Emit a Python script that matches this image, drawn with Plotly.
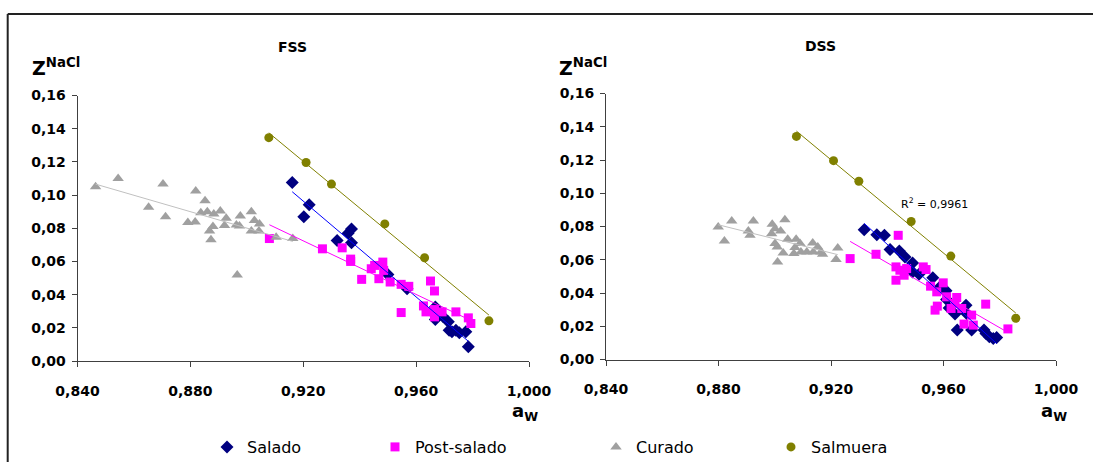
import numpy as np
import plotly.graph_objects as go

W, H = 1093, 462

# ---------------- FSS ----------------
fss_salado_aw = [0.9161, 0.9221, 0.9202, 0.9320, 0.9359, 0.9371, 0.9371, 0.9500, 0.9568,
                 0.9660, 0.9668, 0.9668, 0.9694, 0.9714, 0.9717, 0.9727, 0.9741, 0.9753,
                 0.9776, 0.9785]
fss_salado_z = [0.1076, 0.0942, 0.0870, 0.0726, 0.0770, 0.0796, 0.0712, 0.0522, 0.0436,
                0.0290, 0.0326, 0.0250, 0.0270, 0.0236, 0.0186, 0.0176, 0.0186, 0.0170,
                0.0176, 0.0086]

fss_post_aw = [0.9080, 0.9268, 0.9338, 0.9368, 0.9368, 0.9407, 0.9441, 0.9453, 0.9468,
               0.9482, 0.9485, 0.9508, 0.9547, 0.9574, 0.9547, 0.9651, 0.9665, 0.9626,
               0.9635, 0.9665, 0.9665, 0.9692, 0.9741, 0.9785, 0.9794]
fss_post_z = [0.0738, 0.0676, 0.0682, 0.0614, 0.0600, 0.0492, 0.0556, 0.0576, 0.0496,
              0.0596, 0.0546, 0.0476, 0.0462, 0.0450, 0.0292, 0.0482, 0.0422, 0.0332,
              0.0296, 0.0266, 0.0310, 0.0296, 0.0296, 0.0260, 0.0226]

fss_curado_aw = [0.8464, 0.8544, 0.8652, 0.8703, 0.8712, 0.8791, 0.8819, 0.8817, 0.8852,
                 0.8837, 0.8860, 0.8883, 0.8906, 0.8868, 0.8880, 0.8873, 0.8921, 0.8927,
                 0.8963, 0.8977, 0.8974, 0.8966, 0.9016, 0.9027, 0.9045, 0.9016, 0.9043,
                 0.9104, 0.9163]
fss_curado_z = [0.1050, 0.1100, 0.0926, 0.1066, 0.0870, 0.0834, 0.1024, 0.0838, 0.0966,
                0.0894, 0.0900, 0.0886, 0.0904, 0.0784, 0.0810, 0.0730, 0.0816, 0.0860,
                0.0820, 0.0874, 0.0814, 0.0518, 0.0900, 0.0846, 0.0826, 0.0784, 0.0784,
                0.0746, 0.0738]

fss_salmuera_aw = [0.9078, 0.9210, 0.9300, 0.9489, 0.9630, 0.9858]
fss_salmuera_z = [0.1346, 0.1196, 0.1066, 0.0826, 0.0622, 0.0242]

# ---------------- DSS ----------------
dss_salado_aw = [0.9318, 0.9363, 0.9390, 0.9410, 0.9443, 0.9463, 0.9490, 0.9490, 0.9513,
                 0.9562, 0.9588, 0.9609, 0.9611, 0.9620, 0.9641, 0.9649, 0.9680, 0.9682,
                 0.9700, 0.9744, 0.9751, 0.9763, 0.9777, 0.9789]
dss_salado_z = [0.0781, 0.0751, 0.0747, 0.0661, 0.0653, 0.0617, 0.0581, 0.0527, 0.0513,
                0.0491, 0.0437, 0.0413, 0.0361, 0.0310, 0.0273, 0.0177, 0.0327, 0.0277,
                0.0177, 0.0177, 0.0157, 0.0137, 0.0127, 0.0133]

dss_post_aw = [0.9268, 0.9360, 0.9439, 0.9431, 0.9431, 0.9445, 0.9460, 0.9469, 0.9528,
               0.9538, 0.9554, 0.9576, 0.9599, 0.9570, 0.9578, 0.9611, 0.9627, 0.9647,
               0.9641, 0.9665, 0.9673, 0.9700, 0.9706, 0.9750, 0.9829]
dss_post_z = [0.0607, 0.0633, 0.0747, 0.0557, 0.0477, 0.0537, 0.0507, 0.0547, 0.0557,
              0.0541, 0.0441, 0.0407, 0.0461, 0.0297, 0.0321, 0.0377, 0.0307, 0.0373,
              0.0337, 0.0307, 0.0213, 0.0267, 0.0207, 0.0333, 0.0184]

dss_curado_aw = [0.8799, 0.8847, 0.8821, 0.8924, 0.8906, 0.8912, 0.8991, 0.9001, 0.9036,
                 0.8989, 0.9021, 0.9001, 0.9009, 0.9010, 0.9030, 0.9046, 0.9076, 0.9072,
                 0.9068, 0.9093, 0.9114, 0.9135, 0.9137, 0.9153, 0.9164, 0.9170, 0.9224,
                 0.9218, 0.9090]
dss_curado_z = [0.0797, 0.0833, 0.0713, 0.0833, 0.0773, 0.0747, 0.0813, 0.0787, 0.0841,
                0.0757, 0.0773, 0.0697, 0.0677, 0.0587, 0.0641, 0.0723, 0.0723, 0.0673,
                0.0637, 0.0647, 0.0647, 0.0701, 0.0647, 0.0677, 0.0647, 0.0633, 0.0671,
                0.0601, 0.0697]

dss_salmuera_aw = [0.9077, 0.9209, 0.9299, 0.9485, 0.9626, 0.9857]
dss_salmuera_z = [0.1342, 0.1196, 0.1072, 0.0830, 0.0622, 0.0248]

# Tick values
x_ticks = [0.84, 0.88, 0.92, 0.96, 1.00]
y_ticks = [0.00, 0.02, 0.04, 0.06, 0.08, 0.10, 0.12, 0.14, 0.16]

series_names = ["Salado", "Post-salado", "Curado", "Salmuera"]
marker_colors = ["#000080", "#FF00FF", "#A0A0A0", "#808000"]
trend_colors = ["#0000FF", "#FF00FF", "#C0C0C0", "#808000"]
marker_symbols = ["diamond", "square", "triangle-up", "circle"]
marker_sizes = [10, 9, 10, 9]
legend_ids = ["legend", "legend2", "legend3", "legend4"]

panels = [
    ("x", "y", [(fss_salado_aw, fss_salado_z), (fss_post_aw, fss_post_z),
                (fss_curado_aw, fss_curado_z), (fss_salmuera_aw, fss_salmuera_z)]),
    ("x2", "y2", [(dss_salado_aw, dss_salado_z), (dss_post_aw, dss_post_z),
                  (dss_curado_aw, dss_curado_z), (dss_salmuera_aw, dss_salmuera_z)]),
]

fig = go.Figure()

# markers
for p, (xa, ya, data) in enumerate(panels):
    for i, (aw, z) in enumerate(data):
        fig.add_trace(go.Scatter(
            x=aw, y=z, mode="markers", name=series_names[i],
            marker=dict(symbol=marker_symbols[i], color=marker_colors[i],
                        size=marker_sizes[i], line=dict(width=0)),
            xaxis=xa, yaxis=ya, showlegend=(p == 0), legend=legend_ids[i],
            cliponaxis=False,
        ))

# linear trend lines over the markers
for xa, ya, data in panels:
    for i, (aw, z) in enumerate(data):
        aw_a = np.asarray(aw)
        k, b = np.polyfit(aw_a, np.asarray(z), 1)
        xs = np.array([aw_a.min(), aw_a.max()])
        fig.add_trace(go.Scatter(
            x=xs, y=k * xs + b, mode="lines",
            line=dict(color=trend_colors[i], width=1),
            xaxis=xa, yaxis=ya, showlegend=False, hoverinfo="skip",
        ))


def fx(px):
    return px / W


def fy(py):
    return 1 - py / H


tick_font = dict(family="DejaVu Sans", size=14, color="black", weight="bold")
axis_col = "#404040"

common_x = dict(range=[0.84, 1.0], tickvals=x_ticks, tickformat=".3f", ticks="outside",
                ticklen=5, tickwidth=1, tickcolor=axis_col, showline=True,
                linecolor=axis_col, linewidth=1, showgrid=False, zeroline=False,
                tickfont=tick_font, ticklabelstandoff=12)
common_y = dict(range=[0, 0.16], tickvals=y_ticks, tickformat=".2f", ticks="outside",
                ticklen=5, tickwidth=1, tickcolor=axis_col, showline=True,
                linecolor=axis_col, linewidth=1, showgrid=False, zeroline=False,
                tickfont=tick_font, ticklabelstandoff=3)

fig.update_layout(
    width=W, height=H,
    margin=dict(l=0, r=0, t=0, b=0, autoexpand=False),
    paper_bgcolor="white", plot_bgcolor="white",
    separators=",.",
    xaxis=dict(domain=[fx(77.5), fx(529)], anchor="y", **common_x),
    yaxis=dict(domain=[fy(361), fy(95.5)], anchor="x", **common_y),
    xaxis2=dict(domain=[fx(606), fx(1056)], anchor="y2", **common_x),
    yaxis2=dict(domain=[fy(359.5), fy(93.5)], anchor="x2", **common_y),
)

# legends, one entry each, laid out in a row below the panels
legend_px = [207, 375, 596, 771]
for lid, px in zip(legend_ids, legend_px):
    fig.update_layout({lid: dict(
        x=fx(px), y=fy(447), xanchor="left", yanchor="middle",
        orientation="h", bgcolor="rgba(0,0,0,0)", borderwidth=0,
        font=dict(family="DejaVu Sans", size=16, color="black"),
        itemwidth=30,
    )})

ann = []
# panel titles
ann.append(dict(text="<b>FSS</b>", x=fx(292), y=fy(47), xref="paper", yref="paper",
                xanchor="center", yanchor="middle", showarrow=False,
                font=dict(family="DejaVu Sans", size=14, color="black")))
ann.append(dict(text="<b>DSS</b>", x=fx(820), y=fy(46), xref="paper", yref="paper",
                xanchor="center", yanchor="middle", showarrow=False,
                font=dict(family="DejaVu Sans", size=14, color="black")))
# axis titles
for zx in (30, 557):
    ann.append(dict(text="<b>Z<sup>NaCl</sup></b>", x=fx(zx), y=fy(81), xref="paper",
                    yref="paper", xanchor="left", yanchor="bottom", showarrow=False,
                    font=dict(family="DejaVu Sans", size=19, color="black")))
for ax in (525, 1054):
    ann.append(dict(text="<b>a<sub>W</sub></b>", x=fx(ax), y=fy(398), xref="paper",
                    yref="paper", xanchor="center", yanchor="top", showarrow=False,
                    font=dict(family="DejaVu Sans", size=18, color="black")))
# coefficient of determination of the DSS brine fit
ann.append(dict(text="R<sup>2</sup> = 0,9961", x=0.9442, y=0.0937, xref="x2", yref="y2",
                xanchor="left", yanchor="middle", showarrow=False,
                font=dict(family="DejaVu Sans", size=11, color="black")))
fig.update_layout(annotations=ann)

# outer chart frame (top and left edges)
frame_col = "#222222"
fig.update_layout(shapes=[
    dict(type="line", xref="paper", yref="paper", x0=fx(7.7), x1=1.01, y0=fy(14), y1=fy(14),
         line=dict(color=frame_col, width=2)),
    dict(type="line", xref="paper", yref="paper", x0=fx(7.7), x1=fx(7.7), y0=fy(14), y1=-0.01,
         line=dict(color=frame_col, width=2)),
])

# the page body keeps no margin so the figure fills the window exactly
fig.write_html("out.html",
               post_script="document.body.style.margin='0';"
                           "document.documentElement.style.overflow='hidden';")
